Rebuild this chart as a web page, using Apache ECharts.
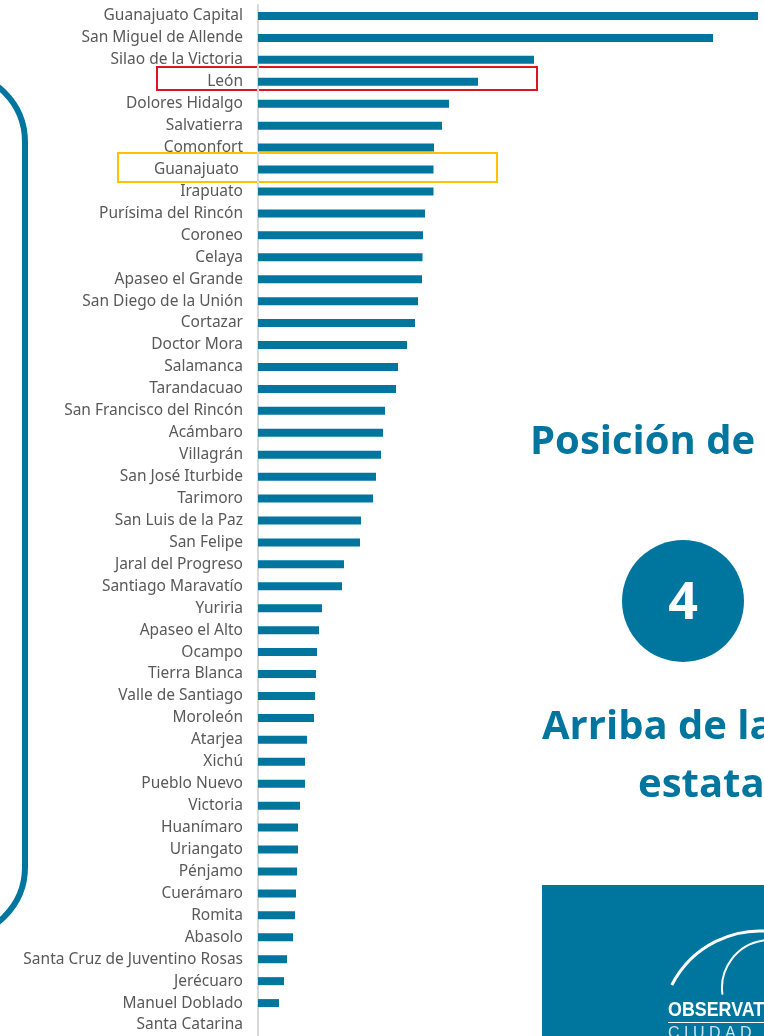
<!DOCTYPE html>
<html>
<head>
<meta charset="utf-8">
<script src="https://cdn.jsdelivr.net/npm/echarts@6/dist/echarts.min.js"></script>
<style>
  html, body { margin: 0; padding: 0; background: #fff; }
  #chart { width: 764px; height: 1036px; }
</style>
</head>
<body>
<div id="chart"></div>
<script>
// municipios, de mayor a menor
const municipios = [
  'Guanajuato Capital', 'San Miguel de Allende', 'Silao de la Victoria', 'León',
  'Dolores Hidalgo', 'Salvatierra', 'Comonfort', 'Guanajuato ', 'Irapuato',
  'Purísima del Rincón', 'Coroneo', 'Celaya', 'Apaseo el Grande',
  'San Diego de la Unión', 'Cortazar', 'Doctor Mora', 'Salamanca', 'Tarandacuao',
  'San Francisco del Rincón', 'Acámbaro', 'Villagrán', 'San José Iturbide',
  'Tarimoro', 'San Luis de la Paz', 'San Felipe', 'Jaral del Progreso',
  'Santiago Maravatío', 'Yuriria', 'Apaseo el Alto', 'Ocampo', 'Tierra Blanca',
  'Valle de Santiago', 'Moroleón', 'Atarjea', 'Xichú', 'Pueblo Nuevo', 'Victoria',
  'Huanímaro', 'Uriangato', 'Pénjamo', 'Cuerámaro', 'Romita', 'Abasolo',
  'Santa Cruz de Juventino Rosas', 'Jerécuaro', 'Manuel Doblado', 'Santa Catarina'
]
// valores
const valores = [
  500, 455, 276, 220, 191, 184, 176, 175.5, 175.5,
  167, 165, 164.5, 164,
  160, 157, 149, 140, 138,
  127, 125, 123, 118,
  115, 103, 102, 86,
  84, 64, 61, 59, 58,
  57, 56, 49, 47, 47, 42,
  40, 40, 39, 38, 37, 35,
  29, 26, 21, 0
]
const azul = '#00769f'
const titulo = 'bold 40px "Open Sans"'

var myChart = echarts.init(document.getElementById('chart'))
let option = {
  animation: false,
  grid: { left: 258, right: 6, top: 5, height: 1034 },
  xAxis: {
    type: 'value',
    min: 0,
    max: 500,
    show: false
  },
  yAxis: {
    type: 'category',
    inverse: true,
    data: municipios,
    axisTick: { show: false },
    axisLine: { show: true, lineStyle: { color: '#d9d9d9', width: 2 } },
    axisLabel: {
      color: '#595959',
      fontSize: 15.5,
      fontFamily: 'Noto Sans',
      margin: 15,
      interval: 0
    }
  },
  series: [
    {
      type: 'bar',
      data: valores,
      barWidth: 8,
      itemStyle: { color: azul },
      silent: true
    }
  ],
  graphic: [
    // marco redondeado a la izquierda
    {
      type: 'rect',
      shape: { x: -200, y: 72, width: 225, height: 865, r: 70 },
      style: { fill: 'none', stroke: azul, lineWidth: 6 },
      z: -1
    },
    // resaltados
    {
      type: 'rect',
      shape: { x: 157, y: 67, width: 380, height: 23 },
      style: { fill: 'none', stroke: '#e0141e', lineWidth: 2 }
    },
    {
      type: 'rect',
      shape: { x: 118, y: 153, width: 379, height: 29 },
      style: { fill: 'none', stroke: '#ffc000', lineWidth: 2 }
    },
    // textos a la derecha
    {
      type: 'text',
      x: 530, y: 443,
      style: { text: 'Posición de', fill: azul, font: titulo, verticalAlign: 'middle' }
    },
    {
      type: 'circle',
      shape: { cx: 683, cy: 601, r: 61 },
      style: { fill: azul }
    },
    {
      type: 'text',
      x: 683, y: 604,
      style: { text: '4', fill: '#fff', font: 'bold 52px "Open Sans"', align: 'center', verticalAlign: 'middle' }
    },
    {
      type: 'text',
      x: 542, y: 728,
      style: { text: 'Arriba de la', fill: azul, font: titulo, verticalAlign: 'middle' }
    },
    {
      type: 'text',
      x: 638, y: 786,
      style: { text: 'estatal', fill: azul, font: titulo, verticalAlign: 'middle' }
    },
    // logo
    {
      type: 'rect',
      shape: { x: 542, y: 885, width: 230, height: 160 },
      style: { fill: azul }
    },
    {
      type: 'arc',
      shape: { cx: 760, cy: 1030, r: 99, startAngle: 207 * Math.PI / 180, endAngle: 280 * Math.PI / 180 },
      style: { stroke: '#fff', lineWidth: 3, fill: 'none' }
    },
    {
      type: 'arc',
      shape: { cx: 770, cy: 988, r: 48, startAngle: 172 * Math.PI / 180, endAngle: 270 * Math.PI / 180 },
      style: { stroke: '#fff', lineWidth: 2, fill: 'none' }
    },
    {
      type: 'text',
      x: 668, y: 1010,
      scaleX: 0.85,
      style: { text: 'OBSERVATORIO', fill: '#fff', font: 'bold 21px "Liberation Sans"', verticalAlign: 'middle' }
    },
    {
      type: 'rect',
      shape: { x: 668, y: 1022, width: 100, height: 1 },
      style: { fill: '#fff' }
    },
    {
      type: 'text',
      x: 668, y: 1026,
      style: { text: 'C I U D A D', fill: '#cfe3ec', font: '16px "Liberation Sans"' }
    }
  ]
}
myChart.setOption(option)
</script>
</body>
</html>
